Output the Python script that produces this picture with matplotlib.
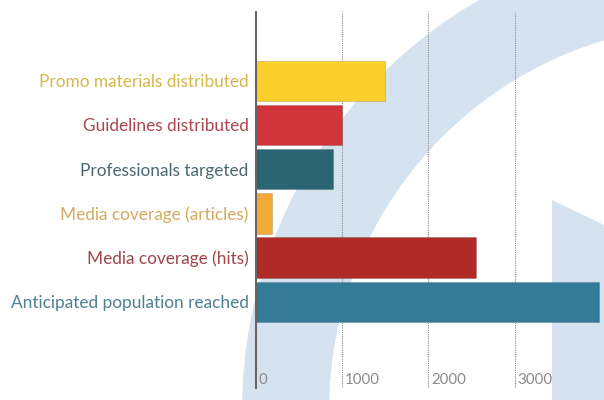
import matplotlib.pyplot as plt
import matplotlib.transforms as mtransforms
from matplotlib.patches import Wedge, Polygon

categories = ["Promo materials distributed", "Guidelines distributed",
              "Professionals targeted", "Media coverage (articles)",
              "Media coverage (hits)", "Anticipated population reached"]
values = [1500, 1000, 900, 190, 2550, 3980]
bar_colors = ["#fbd02c", "#d1343a", "#2b6574", "#f2aa36", "#b12b26", "#347b98"]
label_colors = ["#d6b84a", "#ad4650", "#4a6874", "#d6aa5e", "#a0454a", "#4c8093"]
xticks = [0, 1000, 2000, 3000]

plt.rcParams['font.family'] = ['Lato', 'DejaVu Sans']

fig = plt.figure(figsize=(6.04, 4), dpi=100)

# light blue backdrop shapes, drawn in pixel units
bg = fig.add_axes([0, 0, 1, 1], zorder=0)
bg.set_xlim(0, 604)
bg.set_ylim(400, 0)
bg.axis('off')
bg.add_patch(Wedge((715, 410), 473, 0, 360, width=87, color="#d5e2f0", lw=0))
bg.add_patch(Polygon([(552, 200), (604, 225), (604, 400), (552, 400)],
                     closed=True, color="#d5e2f0", lw=0))

ax = fig.add_axes([255.5 / 604, 12 / 400, 348.5 / 604, 376 / 400], zorder=1)
ax.set_facecolor('none')

ax.barh(range(len(values)), values, height=0.915, color=bar_colors,
        edgecolor="#00000022", linewidth=0.8, zorder=3)

ax.set_xlim(0, 4035)
ax.set_ylim(6.95, -1.555)

ax.set_yticks(range(len(categories)))
ax.set_yticklabels(categories, fontsize=12.4)
for lbl, col in zip(ax.get_yticklabels(), label_colors):
    lbl.set_color(col)
ax.tick_params(axis='y', length=0, pad=5)

ax.set_xticks(xticks[1:])
ax.set_xticklabels([])
ax.tick_params(axis='x', length=0)
ax.xaxis.grid(True, linestyle=(0, (1, 1)), color="#8c8c8c", linewidth=0.8, zorder=1)

# tick numbers sit inside the plot, just right of each gridline
trans = mtransforms.offset_copy(
    mtransforms.blended_transform_factory(ax.transData, ax.transAxes),
    fig=fig, x=3, y=0, units='dots')
for v in xticks:
    ax.text(v, 0.02, str(v), transform=trans, ha='left', va='center',
            fontsize=10.8, color="#8a8a8a")

for side in ['top', 'right', 'bottom']:
    ax.spines[side].set_visible(False)
ax.spines['left'].set_color("#666666")
ax.spines['left'].set_linewidth(1.5)
ax.spines['left'].set_zorder(4)

fig.savefig("out.png", dpi=100)
